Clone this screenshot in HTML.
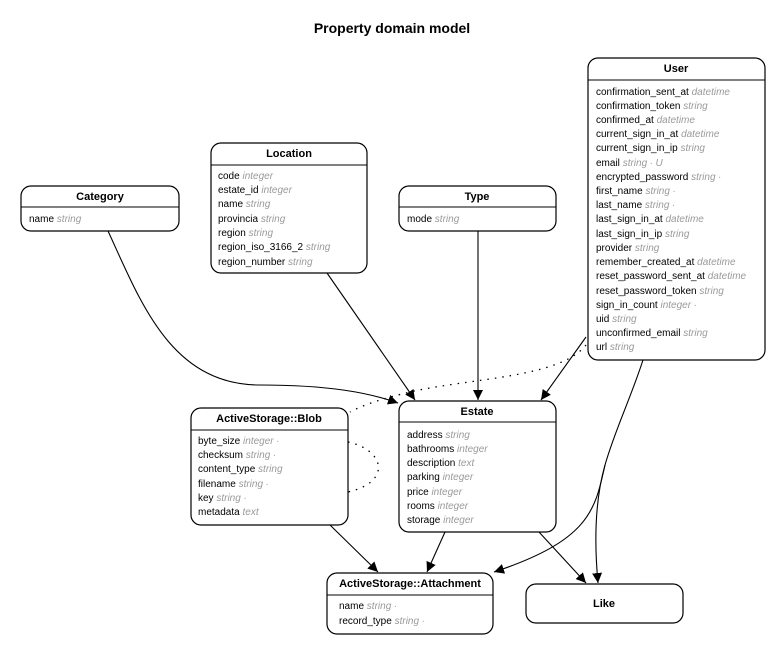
<!DOCTYPE html>
<html><head><meta charset="utf-8"><style>
html,body{margin:0;padding:0;background:#fff;}
svg{display:block;font-family:"Liberation Sans",sans-serif;}
.n{font-size:10px;fill:#000;}
.t{font-size:10px;fill:#9a9a9a;font-style:italic;}
.h{font-size:11px;font-weight:bold;text-anchor:middle;}
.box{fill:#fff;stroke:#000;stroke-width:1.2;}
.e{fill:none;stroke:#000;stroke-width:1.1;}
.d{fill:none;stroke:#000;stroke-width:1.3;stroke-dasharray:1.5 6;}
</style></head><body>
<svg width="784" height="656" viewBox="0 0 784 656" xmlns="http://www.w3.org/2000/svg">
<defs><marker id="a" viewBox="0 0 10 10" refX="10" refY="5" markerWidth="10" markerHeight="10" markerUnits="userSpaceOnUse" orient="auto"><path d="M0,0 L10,5 L0,10 z" fill="#000"/></marker></defs>
<text x="392" y="33" text-anchor="middle" font-size="14" font-weight="bold">Property domain model</text>

<path class="e" marker-end="url(#a)" d="M108,231 C140,300 170,385 260,385 C330,385 370,393 398,403"/>
<path class="e" marker-end="url(#a)" d="M327,273 L415,400"/>
<path class="e" marker-end="url(#a)" d="M478,231 L478,400"/>
<path class="e" marker-end="url(#a)" d="M586,337 L541,400"/>
<path class="d" d="M586,345 C560,378 470,378 410,392 C385,398 365,404 350,412"/>
<path class="d" d="M348,442 C385,450 392,482 348,492"/>
<path class="e" marker-end="url(#a)" d="M330,525 L378,572"/>
<path class="e" marker-end="url(#a)" d="M445,532 L427,572"/>
<path class="e" marker-end="url(#a)" d="M643,360 C630,400 615,430 605,465 C595,510 590,540 494,572"/>
<path class="e" marker-end="url(#a)" d="M605,465 C595,500 594,540 598,583"/>
<path class="e" marker-end="url(#a)" d="M539,532 L586,583"/>

<rect class="box" x="21" y="186" width="158" height="45" rx="10"/>
<line x1="21" y1="207" x2="179" y2="207" stroke="#000"/>
<text class="h" x="100" y="200">Category</text>
<text x="29" y="222"><tspan class="n">name </tspan><tspan class="t">string</tspan></text>

<rect class="box" x="211" y="143" width="156" height="130" rx="10"/>
<line x1="211" y1="165" x2="367" y2="165" stroke="#000"/>
<text class="h" x="289" y="157">Location</text>
<g>
<text x="218" y="179"><tspan class="n">code </tspan><tspan class="t">integer</tspan></text>
<text x="218" y="193"><tspan class="n">estate_id </tspan><tspan class="t">integer</tspan></text>
<text x="218" y="207"><tspan class="n">name </tspan><tspan class="t">string</tspan></text>
<text x="218" y="222"><tspan class="n">provincia </tspan><tspan class="t">string</tspan></text>
<text x="218" y="236"><tspan class="n">region </tspan><tspan class="t">string</tspan></text>
<text x="218" y="250"><tspan class="n">region_iso_3166_2 </tspan><tspan class="t">string</tspan></text>
<text x="218" y="265"><tspan class="n">region_number </tspan><tspan class="t">string</tspan></text>
</g>

<rect class="box" x="399" y="186" width="157" height="45" rx="10"/>
<line x1="399" y1="207" x2="556" y2="207" stroke="#000"/>
<text class="h" x="477" y="200">Type</text>
<text x="407" y="222"><tspan class="n">mode </tspan><tspan class="t">string</tspan></text>

<rect class="box" x="588" y="58" width="177" height="302" rx="10"/>
<line x1="588" y1="80" x2="765" y2="80" stroke="#000"/>
<text class="h" x="676" y="72">User</text>
<g>
<text x="596" y="95"><tspan class="n">confirmation_sent_at </tspan><tspan class="t">datetime</tspan></text>
<text x="596" y="109"><tspan class="n">confirmation_token </tspan><tspan class="t">string</tspan></text>
<text x="596" y="123"><tspan class="n">confirmed_at </tspan><tspan class="t">datetime</tspan></text>
<text x="596" y="137"><tspan class="n">current_sign_in_at </tspan><tspan class="t">datetime</tspan></text>
<text x="596" y="151"><tspan class="n">current_sign_in_ip </tspan><tspan class="t">string</tspan></text>
<text x="596" y="166"><tspan class="n">email </tspan><tspan class="t">string ∙ U</tspan></text>
<text x="596" y="180"><tspan class="n">encrypted_password </tspan><tspan class="t">string ∙</tspan></text>
<text x="596" y="194"><tspan class="n">first_name </tspan><tspan class="t">string ∙</tspan></text>
<text x="596" y="208"><tspan class="n">last_name </tspan><tspan class="t">string ∙</tspan></text>
<text x="596" y="222"><tspan class="n">last_sign_in_at </tspan><tspan class="t">datetime</tspan></text>
<text x="596" y="237"><tspan class="n">last_sign_in_ip </tspan><tspan class="t">string</tspan></text>
<text x="596" y="251"><tspan class="n">provider </tspan><tspan class="t">string</tspan></text>
<text x="596" y="265"><tspan class="n">remember_created_at </tspan><tspan class="t">datetime</tspan></text>
<text x="596" y="279"><tspan class="n">reset_password_sent_at </tspan><tspan class="t">datetime</tspan></text>
<text x="596" y="294"><tspan class="n">reset_password_token </tspan><tspan class="t">string</tspan></text>
<text x="596" y="308"><tspan class="n">sign_in_count </tspan><tspan class="t">integer ∙</tspan></text>
<text x="596" y="322"><tspan class="n">uid </tspan><tspan class="t">string</tspan></text>
<text x="596" y="336"><tspan class="n">unconfirmed_email </tspan><tspan class="t">string</tspan></text>
<text x="596" y="350"><tspan class="n">url </tspan><tspan class="t">string</tspan></text>
</g>

<rect class="box" x="191" y="408" width="157" height="117" rx="10"/>
<line x1="191" y1="430" x2="348" y2="430" stroke="#000"/>
<text class="h" x="269" y="422">ActiveStorage::Blob</text>
<g>
<text x="198" y="444"><tspan class="n">byte_size </tspan><tspan class="t">integer ∙</tspan></text>
<text x="198" y="458"><tspan class="n">checksum </tspan><tspan class="t">string ∙</tspan></text>
<text x="198" y="472"><tspan class="n">content_type </tspan><tspan class="t">string</tspan></text>
<text x="198" y="487"><tspan class="n">filename </tspan><tspan class="t">string ∙</tspan></text>
<text x="198" y="501"><tspan class="n">key </tspan><tspan class="t">string ∙</tspan></text>
<text x="198" y="515"><tspan class="n">metadata </tspan><tspan class="t">text</tspan></text>
</g>

<rect class="box" x="399" y="401" width="157" height="131" rx="10"/>
<line x1="399" y1="422" x2="556" y2="422" stroke="#000"/>
<text class="h" x="477" y="415">Estate</text>
<g>
<text x="407" y="438"><tspan class="n">address </tspan><tspan class="t">string</tspan></text>
<text x="407" y="452"><tspan class="n">bathrooms </tspan><tspan class="t">integer</tspan></text>
<text x="407" y="466"><tspan class="n">description </tspan><tspan class="t">text</tspan></text>
<text x="407" y="480"><tspan class="n">parking </tspan><tspan class="t">integer</tspan></text>
<text x="407" y="495"><tspan class="n">price </tspan><tspan class="t">integer</tspan></text>
<text x="407" y="509"><tspan class="n">rooms </tspan><tspan class="t">integer</tspan></text>
<text x="407" y="523"><tspan class="n">storage </tspan><tspan class="t">integer</tspan></text>
</g>

<rect class="box" x="327" y="573" width="166" height="61" rx="10"/>
<line x1="327" y1="595" x2="493" y2="595" stroke="#000"/>
<text class="h" x="410" y="587">ActiveStorage::Attachment</text>
<text x="339" y="609"><tspan class="n">name </tspan><tspan class="t">string ∙</tspan></text>
<text x="339" y="624"><tspan class="n">record_type </tspan><tspan class="t">string ∙</tspan></text>

<rect class="box" x="526" y="584" width="157" height="39" rx="10"/>
<text class="h" x="604" y="607">Like</text>
</svg>
</body></html>
